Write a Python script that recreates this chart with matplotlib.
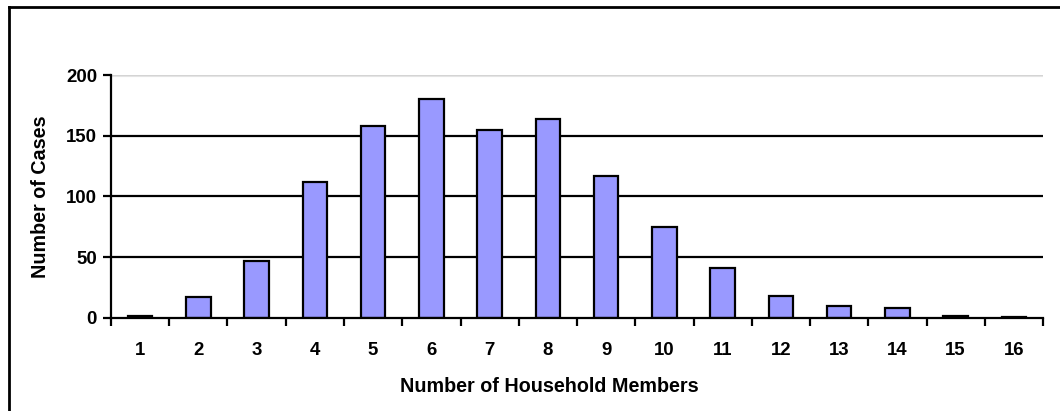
import numpy as np
import matplotlib.pyplot as plt
from matplotlib.lines import Line2D

# Dados do gráfico
members = ['1', '2', '3', '4', '5', '6', '7', '8', '9', '10',
           '11', '12', '13', '14', '15', '16']
cases = [2, 17, 47, 112, 158, 180, 155, 164, 117, 75,
         41, 18, 10, 8, 2, 1]
y_ticks = [0, 50, 100, 150, 200]

plt.rcParams['font.family'] = ['Liberation Sans', 'DejaVu Sans']
plt.rcParams['font.weight'] = 'bold'
fs_tick = 13.4
fs_label = 14.2

fig = plt.figure(figsize=(10.6, 4.11), dpi=100)
ax = fig.add_axes([0.1047, 0.2263, 0.8793, 0.5912])

x = np.arange(len(members))
ax.bar(x, cases, width=0.42, color='#9999FF', edgecolor='black',
       linewidth=1.6, zorder=3)

# Linhas de grade
for v in y_ticks[1:-1]:
    ax.axhline(v, color='black', linewidth=1.6, zorder=1)
ax.axhline(200, color='#d4d4d4', linewidth=1.0, zorder=1)
ax.axhline(198.8, color='#e4e4e4', linewidth=0.8, zorder=1)

ax.set_xlim(-0.5, len(members) - 0.5)
ax.set_ylim(0, 200)
ax.set_yticks(y_ticks)
ax.set_xticks(np.arange(len(members) + 1) - 0.5)
ax.set_xticklabels([])
ax.set_xticks(x, minor=True)
ax.set_xticklabels(members, minor=True)
ax.tick_params(axis='x', which='major', direction='out', length=6, width=1.6)
ax.tick_params(axis='x', which='minor', length=0, pad=17, labelsize=fs_tick)
ax.tick_params(axis='y', direction='out', length=6, width=1.6, labelsize=fs_tick, pad=4)

for s in ['top', 'right']:
    ax.spines[s].set_visible(False)
for s in ['left', 'bottom']:
    ax.spines[s].set_linewidth(1.6)
ax.spines['bottom'].set_zorder(4)

ax.set_ylabel('Number of Cases', fontsize=fs_label, fontweight='bold', va='center')
ax.set_xlabel('Number of Household Members', fontsize=fs_label, fontweight='bold', va='center')
ax.yaxis.set_label_coords(-0.0755, 0.498)
ax.xaxis.set_label_coords(0.47, -0.284)

# Moldura externa (só topo e esquerda aparecem)
fig.add_artist(Line2D([9 / 1060, 9 / 1060], [0, 1 - 7 / 411], color='black',
                      linewidth=2.0, transform=fig.transFigure))
fig.add_artist(Line2D([9 / 1060, 1], [1 - 7 / 411, 1 - 7 / 411], color='black',
                      linewidth=2.0, transform=fig.transFigure))

fig.savefig('out.png', dpi=100)
